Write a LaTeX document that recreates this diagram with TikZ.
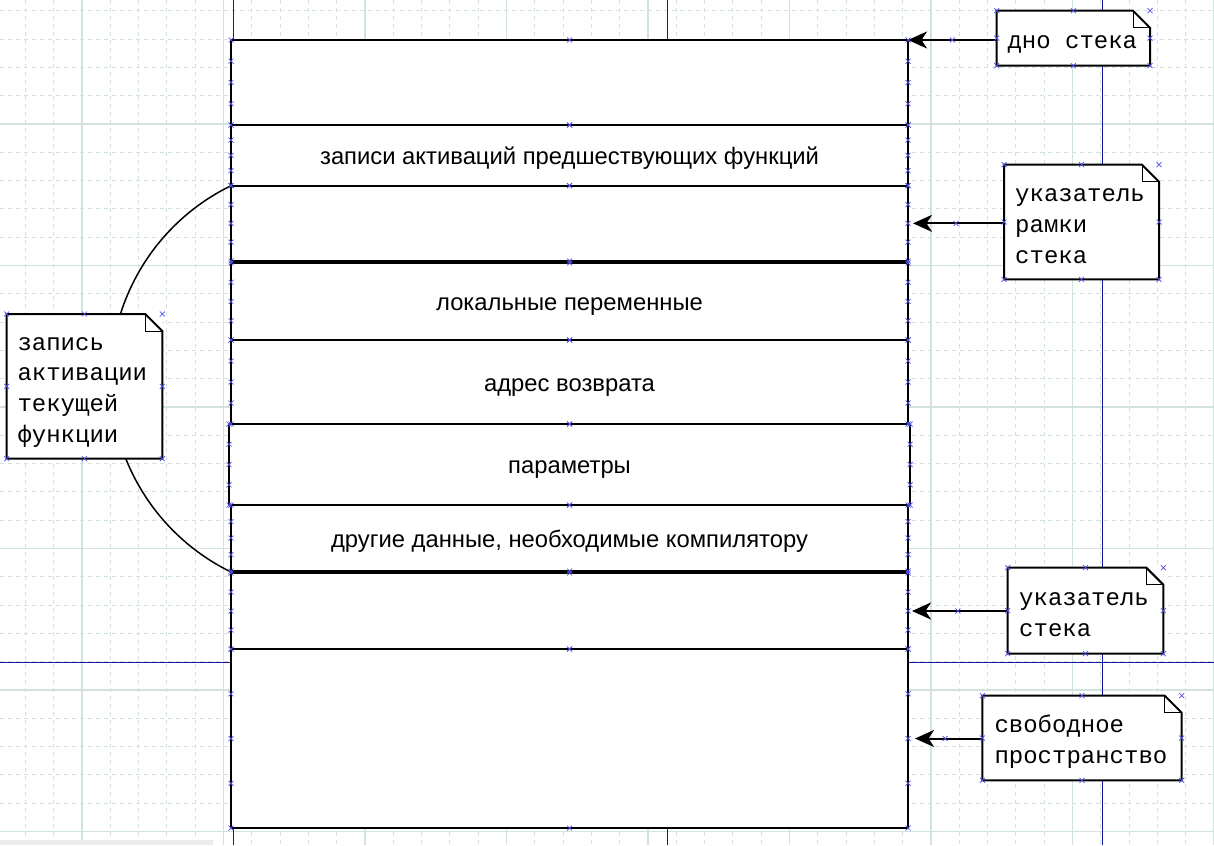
\documentclass[tikz,border=0pt]{standalone}
\usepackage{fontspec}
\setmainfont{Liberation Sans}
\newfontfamily\notefont{Liberation Mono}
\usetikzlibrary{calc,arrows.meta}
\definecolor{gridc}{RGB}{210,226,223}
\definecolor{guide}{RGB}{20,20,160}
\definecolor{markc}{RGB}{80,80,235}
\newcommand\nst{\rule[-4.25pt]{0pt}{29.5pt}}
\newcommand\noteoutline[1]{%
  \draw[line width=2pt, line join=miter] (#1.north west) -- ($(#1.north east)+(-17,0)$) -- ($(#1.north east)+(0,17)$) -- (#1.south east) -- (#1.south west) -- cycle;
  \draw[line width=1pt] ($(#1.north east)+(-17,0)$) -- ($(#1.north east)+(-17,17)$) -- ($(#1.north east)+(0,17)$);}
\begin{document}
\begin{tikzpicture}[x=1pt,y=-1pt,
  stackbox/.style={draw=black, line width=2pt, fill=white, inner sep=0pt, outer sep=0pt,
    minimum width=677pt, text height=20.5pt, text depth=2pt, font=\fontsize{23.8}{28}\selectfont},
  notebox/.style={fill=white, inner sep=0pt, outer sep=0pt, anchor=north west},
  notetext/.style={anchor=west, inner sep=0pt, align=left, font=\notefont\fontsize{24}{29.5}\selectfont},
  ptr/.style={line width=2pt, -{Stealth[length=19pt,width=17pt,inset=5.5pt]}},
  xmk/.pic={\draw[markc, line width=0.7pt] (-2.5,-2.5) -- (2.5,2.5) (-2.5,2.5) -- (2.5,-2.5);},
  gridminor/.style={gridc, line width=1pt, dash pattern=on 4pt off 4pt},
  gridmajor/.style={gridc, line width=1.2pt},
  guideline/.style={guide, line width=1pt}
]
\useasboundingbox[fill=white] (0,0) rectangle (1214,845);
% grid
\foreach \i in {-2,...,40} \draw[gridminor] ({82+\i*28.3},0) -- ({82+\i*28.3},845);
\foreach \j in {-4,...,25} \draw[gridminor] (0,{124+\j*28.3}) -- (1214,{124+\j*28.3});
\foreach \i in {0,...,8} \draw[gridmajor] ({82+\i*141.5},0) -- ({82+\i*141.5},845);
\foreach \j in {0,...,5} \draw[gridmajor] (0,{124+\j*141.5}) -- (1214,{124+\j*141.5});
% guides
\draw[guideline] (233,0) -- (233,845);
\draw[guideline] (667,0) -- (667,845);
\draw[guideline] (1102,0) -- (1102,845);
\draw[guideline] (0,662) -- (1214,662);
\fill[gray!15] (0,840) rectangle (213,845);
% stack
\node[stackbox, minimum height=85pt] (s1) at (569.5,82.5) {};
\node[stackbox, minimum height=60.7pt] (s2) at (569.5,155.35) {записи активаций предшествующих функций};
\node[stackbox, minimum height=75.3pt] (s3) at (569.5,223.35) {};
\node[stackbox, minimum height=77pt] (s4) at (569.5,301.5) {локальные переменные};
\node[stackbox, minimum height=84pt] (s5) at (569.5,382) {адрес возврата};
\node[stackbox, minimum height=81pt, minimum width=681pt] (s6) at (569.5,464.5) {параметры};
\node[stackbox, minimum height=66pt] (s7) at (569.5,538) {другие данные, необходимые компилятору};
\node[stackbox, minimum height=76pt] (s8) at (569.5,611) {};
\node[stackbox, minimum height=179pt] (s9) at (569.5,738.5) {};
% arc
\draw[line width=1.5pt] (s3.north west) arc[start angle=243.95, end angle=116, radius=215];
% notes
\node[notebox, minimum width=153.3pt, minimum height=55pt] (n1) at (996.7,10.7) {};
\node[notebox, minimum width=155pt, minimum height=114.6pt] (n2) at (1004,164.7) {};
\node[notebox, minimum width=155.6pt, minimum height=144.7pt] (n3) at (6.7,314) {};
\node[notebox, minimum width=155.6pt, minimum height=86pt] (n4) at (1007.7,567.7) {};
\node[notebox, minimum width=199.4pt, minimum height=84.6pt] (n5) at (982.3,695.7) {};
\noteoutline{n1}\noteoutline{n2}\noteoutline{n3}\noteoutline{n4}\noteoutline{n5}
\node[notetext] (n1t) at ($(n1.west)+(10.6,0)$) {\nst дно стека};
\node[notetext] (n2t) at ($(n2.west)+(11,0)$) {\nst указатель\\\nst рамки\\\nst стека};
\node[notetext] (n3t) at ($(n3.west)+(10.6,0)$) {\nst запись\\\nst активации\\\nst текущей\\\nst функции};
\node[notetext] (n4t) at ($(n4.west)+(11.3,0)$) {\nst указатель\\\nst стека};
\node[notetext] (n5t) at ($(n5.west)+(12,0)$) {\nst свободное\\\nst пространство};
% pointers
\draw[ptr] (n1.west |- s1.north east) -- (s1.north east);
\draw[ptr, shorten >=5pt] (n2.west |- s3.east) -- (s3.east);
\draw[ptr, shorten >=4pt] (n4.west |- s8.east) -- (s8.east);
\draw[ptr, shorten >=7pt] (n5.west |- s9.east) -- (s9.east);
% markers
\foreach \b in {s1,s2,s3,s4,s5,s6,s7,s8,s9}{
  \foreach \t in {0,0.25,0.5,0.75,1}{
    \pic at ($(\b.north west)!\t!(\b.south west)$) {xmk};
    \pic at ($(\b.north east)!\t!(\b.south east)$) {xmk};
  }
  \pic at (\b.north) {xmk};
  \pic at (\b.south) {xmk};
}
\foreach \b in {n1,n2,n3,n4,n5}{
  \foreach \a in {north west,north,north east,east,south east,south,south west,west}
    \pic at (\b.\a) {xmk};
}
\pic at ($(n1.west |- s1.north east)!0.5!(s1.north east)$) {xmk};
\pic at ($(n2.west |- s3.east)!0.5!(s3.east)$) {xmk};
\pic at ($(n4.west |- s8.east)!0.5!(s8.east)$) {xmk};
\pic at ($(n5.west |- s9.east)!0.5!(s9.east)$) {xmk};
\end{tikzpicture}
\end{document}
